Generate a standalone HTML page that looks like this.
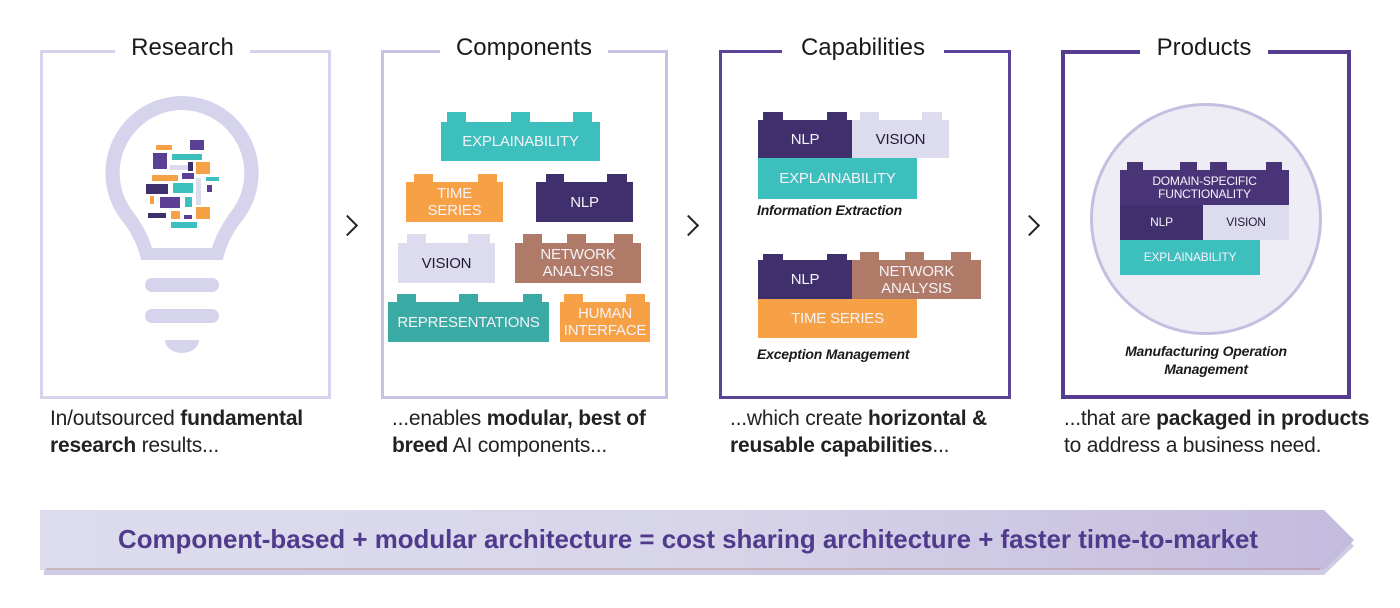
<!DOCTYPE html>
<html><head><meta charset="utf-8"><style>
*{margin:0;padding:0;box-sizing:border-box}
body{width:1400px;height:608px;background:#fff;position:relative;overflow:hidden;font-family:"Liberation Sans",Arial,sans-serif}
.a{position:absolute}
.box{position:absolute;border-style:solid}
.title{position:absolute;background:#fff;font-size:24px;color:#1a1a1a;text-align:center;line-height:28px}
.b{position:absolute;display:flex;align-items:center;justify-content:center;text-align:center;color:#f4f2f8;font-size:15px;line-height:17px;letter-spacing:-0.2px}
.s{position:absolute}
.t{position:absolute;font-size:21px;line-height:27px;color:#222;letter-spacing:-0.2px}
.t b{font-weight:bold}
.cap{position:absolute;font-size:14px;font-weight:bold;font-style:italic;color:#1a1a1a;letter-spacing:-0.2px}
.chev{position:absolute;width:15px;height:15px;border-right:2px solid #222;border-top:2px solid #222;transform:rotate(45deg)}
.te{background:#3dbfbd}.or{background:#f7a147}.pu{background:#3f2f6c}.vi{background:#dddcee}.nw{background:#b07a68}.rp{background:#3aaaa4}
.vi.b{color:#1f1a3a}
</style></head><body>

<div class="box" style="left:40px;top:50px;width:291px;height:349px;border-width:3px;border-color:#d6d3ec"></div>
<div class="title" style="left:115px;top:34px;width:135px">Research</div>
<div class="box" style="left:381px;top:50px;width:287px;height:349px;border-width:3px;border-color:#c9c1e2"></div>
<div class="title" style="left:440px;top:34px;width:168px">Components</div>
<div class="box" style="left:719px;top:50px;width:292px;height:349px;border-width:3px;border-color:#5c4498"></div>
<div class="title" style="left:782px;top:34px;width:162px">Capabilities</div>
<div class="box" style="left:1061px;top:50px;width:290px;height:349px;border-width:4px;border-color:#553c8f"></div>
<div class="title" style="left:1140px;top:34px;width:128px">Products</div>

<div class="chev" style="left:340px;top:218px"></div>
<div class="chev" style="left:681px;top:218px"></div>
<div class="chev" style="left:1022px;top:218px"></div>

<svg class="a" style="left:0;top:0" width="400" height="400">
<path d="M182 96 a77 77 0 0 1 59 126 q-14 18 -18 38 h-82 q-4 -20 -18 -38 A77 77 0 0 1 182 96z M182 110 a63 63 0 0 0 -48 103 q13 18 18 35 h60 q5 -17 18 -35 A63 63 0 0 0 182 110z" fill="#d6d3ec" fill-rule="evenodd"/>
<rect x="145" y="278" width="74" height="14" rx="7" fill="#d6d3ec"/>
<rect x="145" y="309" width="74" height="14" rx="7" fill="#d6d3ec"/>
<path d="M165 340 h34 a17 13 0 0 1 -34 0z" fill="#d6d3ec"/>
<g>
<rect x="156" y="145" width="16" height="5" fill="#f7a147"/>
<rect x="190" y="140" width="14" height="10" fill="#5a3f94"/>
<rect x="153" y="153" width="14" height="16" fill="#5a3f94"/>
<rect x="172" y="154" width="30" height="6" fill="#3dbfbd"/>
<rect x="170" y="165" width="20" height="5" fill="#dddcee"/>
<rect x="188" y="162" width="5" height="9" fill="#3f2f6c"/>
<rect x="196" y="162" width="14" height="12" fill="#f7a147"/>
<rect x="152" y="175" width="26" height="6" fill="#f7a147"/>
<rect x="182" y="173" width="12" height="6" fill="#5a3f94"/>
<rect x="206" y="177" width="13" height="4" fill="#3dbfbd"/>
<rect x="146" y="184" width="22" height="10" fill="#3f2f6c"/>
<rect x="173" y="183" width="20" height="10" fill="#3dbfbd"/>
<rect x="196" y="178" width="5" height="27" fill="#dddcee"/>
<rect x="207" y="185" width="5" height="7" fill="#5a3f94"/>
<rect x="150" y="196" width="4" height="8" fill="#f7a147"/>
<rect x="160" y="197" width="20" height="11" fill="#5a3f94"/>
<rect x="185" y="197" width="7" height="10" fill="#3dbfbd"/>
<rect x="148" y="213" width="18" height="5" fill="#3f2f6c"/>
<rect x="171" y="211" width="9" height="8" fill="#f7a147"/>
<rect x="184" y="215" width="8" height="4" fill="#5a3f94"/>
<rect x="196" y="207" width="14" height="12" fill="#f7a147"/>
<rect x="171" y="222" width="26" height="6" fill="#3dbfbd"/>
</g>
</svg>

<div class="s te" style="left:447px;top:112px;width:19px;height:12px"></div>
<div class="s te" style="left:511px;top:112px;width:19px;height:12px"></div>
<div class="s te" style="left:573px;top:112px;width:19px;height:12px"></div>
<div class="b te" style="left:441px;top:122px;width:159px;height:39px">EXPLAINABILITY</div>

<div class="s or" style="left:414px;top:174px;width:19px;height:10px"></div>
<div class="s or" style="left:478px;top:174px;width:19px;height:10px"></div>
<div class="b or" style="left:406px;top:182px;width:97px;height:40px">TIME<br>SERIES</div>

<div class="s pu" style="left:546px;top:174px;width:18px;height:10px"></div>
<div class="s pu" style="left:607px;top:174px;width:20px;height:10px"></div>
<div class="b pu" style="left:536px;top:182px;width:97px;height:40px">NLP</div>

<div class="s vi" style="left:407px;top:234px;width:19px;height:10px"></div>
<div class="s vi" style="left:468px;top:234px;width:22px;height:10px"></div>
<div class="b vi" style="left:398px;top:243px;width:97px;height:40px">VISION</div>

<div class="s nw" style="left:523px;top:234px;width:19px;height:10px"></div>
<div class="s nw" style="left:567px;top:234px;width:19px;height:10px"></div>
<div class="s nw" style="left:614px;top:234px;width:19px;height:10px"></div>
<div class="b nw" style="left:515px;top:243px;width:126px;height:40px">NETWORK<br>ANALYSIS</div>

<div class="s rp" style="left:397px;top:294px;width:19px;height:10px"></div>
<div class="s rp" style="left:459px;top:294px;width:19px;height:10px"></div>
<div class="s rp" style="left:523px;top:294px;width:19px;height:10px"></div>
<div class="b rp" style="left:388px;top:302px;width:161px;height:40px">REPRESENTATIONS</div>

<div class="s or" style="left:564px;top:294px;width:19px;height:10px"></div>
<div class="s or" style="left:626px;top:294px;width:19px;height:10px"></div>
<div class="b or" style="left:560px;top:302px;width:90px;height:40px">HUMAN<br>INTERFACE</div>

<div class="s pu" style="left:763px;top:112px;width:20px;height:10px"></div>
<div class="s pu" style="left:827px;top:112px;width:20px;height:10px"></div>
<div class="b pu" style="left:758px;top:120px;width:94px;height:38px">NLP</div>
<div class="s vi" style="left:860px;top:112px;width:19px;height:10px"></div>
<div class="s vi" style="left:922px;top:112px;width:20px;height:10px"></div>
<div class="b vi" style="left:852px;top:120px;width:97px;height:38px">VISION</div>
<div class="b te" style="left:758px;top:158px;width:159px;height:41px">EXPLAINABILITY</div>
<div class="cap" style="left:757px;top:202px">Information Extraction</div>

<div class="s pu" style="left:763px;top:254px;width:20px;height:10px"></div>
<div class="s pu" style="left:827px;top:254px;width:20px;height:10px"></div>
<div class="b pu" style="left:758px;top:260px;width:94px;height:39px">NLP</div>
<div class="s nw" style="left:860px;top:252px;width:19px;height:10px"></div>
<div class="s nw" style="left:905px;top:252px;width:19px;height:10px"></div>
<div class="s nw" style="left:951px;top:252px;width:20px;height:10px"></div>
<div class="b nw" style="left:852px;top:260px;width:129px;height:39px">NETWORK<br>ANALYSIS</div>
<div class="b or" style="left:758px;top:299px;width:159px;height:39px">TIME SERIES</div>
<div class="cap" style="left:757px;top:346px">Exception Management</div>

<div class="a" style="left:1090px;top:103px;width:232px;height:232px;border-radius:50%;background:#eeedf6;border:3px solid #c6bde0"></div>
<div class="s pu" style="left:1127px;top:162px;width:16px;height:10px;background:#4a3478"></div>
<div class="s pu" style="left:1180px;top:162px;width:17px;height:10px;background:#4a3478"></div>
<div class="s pu" style="left:1210px;top:162px;width:17px;height:10px;background:#4a3478"></div>
<div class="s pu" style="left:1266px;top:162px;width:16px;height:10px;background:#4a3478"></div>
<div class="b pu" style="left:1120px;top:170px;width:169px;height:35px;font-size:12px;line-height:13px;background:#4a3478">DOMAIN-SPECIFIC<br>FUNCTIONALITY</div>
<div class="b pu" style="left:1120px;top:205px;width:83px;height:35px;font-size:12px">NLP</div>
<div class="b vi" style="left:1203px;top:205px;width:86px;height:35px;font-size:12px">VISION</div>
<div class="b te" style="left:1120px;top:240px;width:140px;height:35px;font-size:12px">EXPLAINABILITY</div>
<div class="cap" style="left:1100px;top:342px;width:212px;text-align:center;font-size:14px;line-height:18px">Manufacturing Operation<br>Management</div>

<div class="t" style="left:50px;top:405px">In/outsourced <b>fundamental</b><br><b>research</b> results...</div>
<div class="t" style="left:392px;top:405px">...enables <b>modular, best of</b><br><b>breed</b> AI components...</div>
<div class="t" style="left:730px;top:405px">...which create <b>horizontal &amp;</b><br><b>reusable capabilities</b>...</div>
<div class="t" style="left:1064px;top:405px">...that are <b>packaged in products</b><br>to address a business need.</div>

<svg class="a" style="left:0;top:0" width="1400" height="608">
<defs><linearGradient id="g" x1="0" x2="1"><stop offset="0" stop-color="#dddcee"/><stop offset="0.5" stop-color="#d8d5ea"/><stop offset="1" stop-color="#c3bbdd"/></linearGradient></defs>
<polygon points="42,573 1322,573 1352,544 1322,513 40,511" fill="#cfcbe4" transform="translate(2,2)"/>
<polygon points="40,510 1324,510 1354,540 1324,570 40,570" fill="url(#g)"/>
<line x1="46" y1="569" x2="1320" y2="569" stroke="#b89090" stroke-width="1"/>
<text x="118" y="548" textLength="1140" lengthAdjust="spacingAndGlyphs" font-family="Liberation Sans, Arial, sans-serif" font-weight="bold" font-size="26" fill="#4f3a8c">Component-based + modular architecture = cost sharing architecture + faster time-to-market</text>
</svg>
</body></html>
